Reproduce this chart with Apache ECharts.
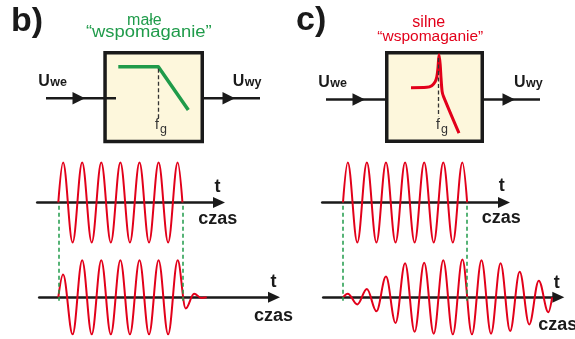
<!DOCTYPE html>
<html><head><meta charset="utf-8">
<script src="https://cdn.jsdelivr.net/npm/echarts/dist/echarts.min.js"></script>
<style>html,body{margin:0;padding:0;background:#fff}#c{width:575px;height:339px}</style>
</head><body><div id="c"></div>
<script>
// ---------- values ----------
// extrema of each trace: time in cycles of the input signal, amplitude relative to the input peak
const inputBurst = [[0,0],[0.25,1],[0.75,-1],[1.25,1],[1.75,-1],[2.25,1],[2.75,-1],[3.25,1],[3.75,-1],
  [4.25,1],[4.75,-1],[5.25,1],[5.75,-1],[6.25,1],[6.5,0]];
const outputB = [[0,0],[0.25,0.62],[0.75,-1],[1.25,1],[1.75,-1],[2.25,1],[2.75,-1],[3.25,1],[3.75,-1],
  [4.25,1],[4.75,-1],[5.25,1],[5.75,-1],[6.25,1],[6.67,-0.3],[7.11,0.1],[7.5,-0.02],[7.77,0]];
const outputC = [[0,0],[0.25,0.1],[0.75,-0.19],[1.25,0.225],[1.75,-0.375],[2.25,0.56],[2.75,-0.69],[3.25,0.92],
  [3.75,-0.93],[4.25,0.935],[4.75,-0.98],[5.25,1.0],[5.75,-1],[6.25,1.02],[6.75,-1],[7.25,1.0],[7.75,-0.98],
  [8.25,0.92],[8.75,-0.91],[9.25,0.69],[9.75,-0.73],[10.25,0.45],[10.75,-0.4],[10.95,0]];
// frequency responses: relative frequency, relative gain
const responseB = [[0,0],[1,0],[1.75,-1]];
const responseC = [[0,0],[0.56,0.01],[0.74,0.06],[0.86,0.18],[0.92,0.33],[0.96,0.59],[1.0,1.0],[1.04,0.7],[1.07,0.29],[1.11,-0.12],[1.16,-0.27],[1.71,-1.38]];
const fgB = 1, fgC = 0.96;
// texts
const panelLetters = ['b)', 'c)'];
const captionB = ['małe', '“wspomaganie”'];
const captionC = ['silne', '“wspomaganie”'];
const timeName = 't', timeUnit = 'czas';
const inName = ['U', 'we'], outName = ['U', 'wy'];
const fgName = ['f', 'g'];

// ---------- layout & style ----------
const FONT = "'Liberation Sans', Arial, Helvetica, sans-serif";
const RED = '#e2001a', GREEN = '#1f9b4a', INK = '#1a1a1a', DASH = '#333333', BOX = '#fdf7dc';
const PX_PER_CYCLE = 19.1, AMP_PX = 40, ARROW_LEN = 12;
const burstEnd = inputBurst[inputBurst.length - 1][0];

function waveGrid(axisStart, tip, axisY, burstX) {
  const end = tip - ARROW_LEN / 2;
  return {
    grid: { left: axisStart, top: axisY - AMP_PX * 1.125, width: end - axisStart, height: AMP_PX * 2.25 },
    min: (axisStart - burstX) / PX_PER_CYCLE,
    max: (end - burstX) / PX_PER_CYCLE
  };
}
const TOP_Y = 202.5, BOT_Y = 300.7;
const waves = [
  { g: waveGrid(37.3, 225, TOP_Y, 58.3), data: inputBurst },
  { g: waveGrid(39.3, 280, BOT_Y, 58.3), data: outputB },
  { g: waveGrid(322.3, 510, TOP_Y, 343), data: inputBurst },
  { g: waveGrid(323.3, 564.3, BOT_Y, 343), data: outputC }
];

const grids = [], xAxes = [], yAxes = [], series = [];
waves.forEach((w, i) => {
  grids.push(w.g.grid);
  xAxes.push({ gridIndex: i, type: 'value', min: w.g.min, max: w.g.max,
    axisLine: { show: true, onZero: true, symbol: ['none', 'triangle'], symbolSize: [11, ARROW_LEN],
      lineStyle: { color: INK, width: 2.7 } },
    axisTick: { show: false }, axisLabel: { show: false }, splitLine: { show: false } });
  yAxes.push({ gridIndex: i, type: 'value', min: -1.125, max: 1.125, show: false,
    axisLine: { show: false }, splitLine: { show: false } });
  series.push({ type: 'line', xAxisIndex: i, yAxisIndex: i, data: w.data, smooth: 0.3634, smoothMonotone: 'x',
    showSymbol: false, symbol: 'none', clip: false, silent: true, lineStyle: { color: RED, width: 2 } });
});
// connectors (green dashed) between input and output axes
[0, 2].forEach((wi) => {
  const idx = grids.length;
  const g = waves[wi].g;
  grids.push({ left: g.grid.left, width: g.grid.width, top: TOP_Y, height: BOT_Y - TOP_Y });
  xAxes.push({ gridIndex: idx, type: 'value', min: g.min, max: g.max, show: false, splitLine: { show: false } });
  yAxes.push({ gridIndex: idx, type: 'value', min: 0, max: 1, show: false, splitLine: { show: false } });
  series.push({ type: 'line', xAxisIndex: idx, yAxisIndex: idx, data: [], silent: true,
    markLine: { silent: true, symbol: ['none', 'none'], label: { show: false },
      lineStyle: { color: GREEN, type: [4, 3], width: 1.5 },
      emphasis: { disabled: true },
      data: [{ xAxis: 0 }, { xAxis: burstEnd }] } });
});
// frequency responses
{
  const idx = grids.length;
  grids.push({ left: 118.3, top: 66.7, width: 70, height: 51.6 });
  xAxes.push({ gridIndex: idx, type: 'value', min: 0, max: 1.75, show: false, splitLine: { show: false } });
  yAxes.push({ gridIndex: idx, type: 'value', min: -1.19, max: 0, show: false, splitLine: { show: false } });
  series.push({ type: 'line', xAxisIndex: idx, yAxisIndex: idx, data: responseB, showSymbol: false, symbol: 'none',
    clip: false, silent: true, lineStyle: { color: GREEN, width: 3.5, join: 'round' },
    markLine: { silent: true, symbol: ['none', 'none'], label: { show: false }, emphasis: { disabled: true },
      lineStyle: { color: DASH, type: [4, 2.5], width: 1.3 }, data: [{ xAxis: fgB }] } });
}
{
  const idx = grids.length;
  grids.push({ left: 411, top: 54.7, width: 48, height: 78.5 });
  xAxes.push({ gridIndex: idx, type: 'value', min: 0, max: 1.71, show: false, splitLine: { show: false } });
  yAxes.push({ gridIndex: idx, type: 'value', min: -1.38, max: 1.0, show: false, splitLine: { show: false } });
  series.push({ type: 'line', xAxisIndex: idx, yAxisIndex: idx, data: responseC, smooth: 0.3, showSymbol: false, symbol: 'none',
    clip: false, silent: true, lineStyle: { color: RED, width: 3, join: 'round' },
    markLine: { silent: true, symbol: ['none', 'none'], label: { show: false }, emphasis: { disabled: true },
      lineStyle: { color: DASH, type: [4, 2.5], width: 1.3 },
      data: [[{ coord: [fgC, 0.9] }, { coord: [fgC, -0.88] }]] } });
}

// ---------- graphic helpers ----------
function txt(str, x, baseline, size, weight, color, align, extra) {
  return Object.assign({ type: 'text', x: x, y: baseline - 0.35 * size, z: 5, silent: true,
    style: { text: str, font: weight + ' ' + size + 'px ' + FONT, fill: color,
      textAlign: align || 'left', align: align || 'left', textVerticalAlign: 'middle', verticalAlign: 'middle' } }, extra || {});
}
function box(x0, y0, x1, y1) {
  const lw = 3.5;
  return { type: 'rect', z: 1, silent: true, shape: { x: x0 + lw / 2, y: y0 + lw / 2, width: x1 - x0 - lw, height: y1 - y0 - lw },
    style: { fill: BOX, stroke: INK, lineWidth: lw } };
}
function arrow(x1, x2, y, tip) {
  return [
    { type: 'line', z: 5, silent: true, shape: { x1: x1, y1: y, x2: x2, y2: y }, style: { stroke: INK, lineWidth: 2.6 } },
    { type: 'polygon', z: 5, silent: true, shape: { points: [[tip - 12.5, y - 6.3], [tip, y], [tip - 12.5, y + 6.3]] }, style: { fill: INK } }
  ];
}
function uLabel(x, baseline, sub) {
  return [txt(sub[0], x, baseline, 16, 'bold', INK), txt(sub[1], x + 12, baseline, 12.5, 'bold', INK)];
}
function fgLabel(x) {
  return [txt(fgName[0], x, 130.5, 14, 'normal', DASH), txt(fgName[1], x + 5, 133.5, 12.5, 'normal', DASH)];
}
function tLabels(tx, tBase, cx, cBase) {
  return [txt(timeName, tx, tBase, 18, 'bold', INK, 'center'), txt(timeUnit, cx, cBase, 18, 'bold', INK)];
}

const graphics = [].concat(
  [box(103.3, 51, 204, 143.3), box(385, 51, 484, 143)],
  arrow(46, 116, 98.3, 85), arrow(204, 260, 98.3, 235),
  arrow(326, 385, 99.5, 365), arrow(484, 540, 99.5, 515),
  [txt(panelLetters[0], 11, 33.5, 34, 'bold', INK), txt(panelLetters[1], 296, 32.5, 34, 'bold', INK)],
  [txt(captionB[0], 144.4, 25.7, 16, 'normal', GREEN, 'center'),
   txt(captionB[1], 148.8, 38.3, 16, 'normal', GREEN, 'center', { scaleX: 1.15 }),
   txt(captionC[0], 428.8, 28.3, 16, 'normal', RED, 'center'),
   txt(captionC[1], 430.3, 41.7, 15.5, 'normal', RED, 'center')],
  uLabel(38.3, 86.7, inName), uLabel(232.7, 86.7, outName),
  uLabel(318.3, 87.7, inName), uLabel(514, 87.7, outName),
  fgLabel(155), fgLabel(436),
  tLabels(217.5, 193, 198.3, 225), tLabels(273.5, 288, 254, 322),
  tLabels(501.7, 192.7, 481.7, 224), tLabels(556.7, 289.3, 538.3, 331.7)
);

const chart = echarts.init(document.getElementById('c'), null, { renderer: 'canvas' });
chart.setOption({
  animation: false,
  backgroundColor: '#ffffff',
  grid: grids, xAxis: xAxes, yAxis: yAxes, series: series,
  graphic: { elements: graphics }
});
</script></body></html>
